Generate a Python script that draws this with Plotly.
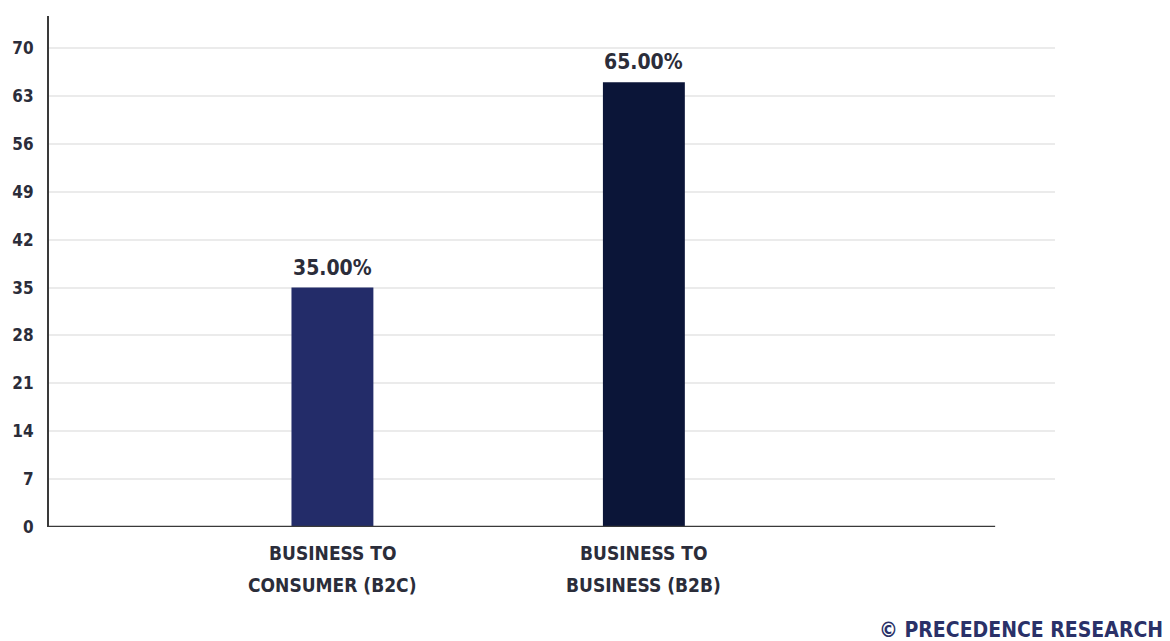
import plotly.graph_objects as go

# Revenue share by business model
category_lines = [["BUSINESS TO", "CONSUMER (B2C)"], ["BUSINESS TO", "BUSINESS (B2B)"]]
shares = [35.0, 65.0]
bar_colors = ["#232c69", "#0b1538"]
y_ticks = [0, 7, 14, 21, 28, 35, 42, 49, 56, 63, 70]

FONT = "Liberation Sans Narrow, DejaVu Sans Condensed, Arial Narrow, sans-serif"
TEXT = "#2b2d3a"

x_pos = list(range(len(category_lines)))

fig = go.Figure()
fig.add_trace(go.Bar(
    x=x_pos,
    y=shares,
    width=0.263,
    marker=dict(color=bar_colors, line=dict(width=0)),
    hoverinfo="skip",
))

# Value labels above each bar
for xi, v in zip(x_pos, shares):
    fig.add_annotation(
        x=xi, y=v, xref="x", yref="y",
        text=f"{v:.2f}%",
        showarrow=False, yanchor="bottom", yshift=6,
        font=dict(family=FONT, size=21, color=TEXT, weight="bold"),
    )

# Two-line category labels under the axis
for xi, lines in zip(x_pos, category_lines):
    for py, line in zip([-0.051, -0.1135], lines):
        fig.add_annotation(
            x=xi, y=py, xref="x", yref="paper",
            text=line, showarrow=False, yanchor="middle",
            font=dict(family=FONT, size=19, color=TEXT, weight="bold"),
        )

fig.update_layout(
    width=1170,
    height=641,
    margin=dict(l=46, r=115, t=16, b=114),
    paper_bgcolor="white",
    plot_bgcolor="white",
    showlegend=False,
    font=dict(family=FONT, color=TEXT),
    xaxis=dict(
        range=[-0.91, 2.32],
        showticklabels=False,
        showgrid=False,
        zeroline=False,
        showline=False,
        ticks="",
    ),
    yaxis=dict(
        range=[0, 74.7],
        tickmode="array",
        tickvals=y_ticks,
        tickfont=dict(family=FONT, size=17, color=TEXT, weight="bold"),
        showgrid=True,
        gridcolor="#ebebeb",
        gridwidth=1.5,
        zeroline=False,
        showline=True,
        linecolor="#3a3a3a",
        linewidth=2,
        ticks="",
        ticklabelstandoff=10,
    ),
)

# Baseline drawn across most of the plot width
fig.add_shape(
    type="line", xref="paper", yref="y",
    x0=0, x1=0.9405, y0=0, y1=0,
    line=dict(color="#3a3a3a", width=2.5),
)

fig.add_annotation(
    text="© PRECEDENCE RESEARCH",
    xref="paper", yref="paper",
    x=1.109, y=-0.175, xanchor="right", yanchor="top",
    showarrow=False,
    font=dict(family=FONT, size=21, color="#2a3168", weight="bold"),
)

fig.write_html("out.html")
